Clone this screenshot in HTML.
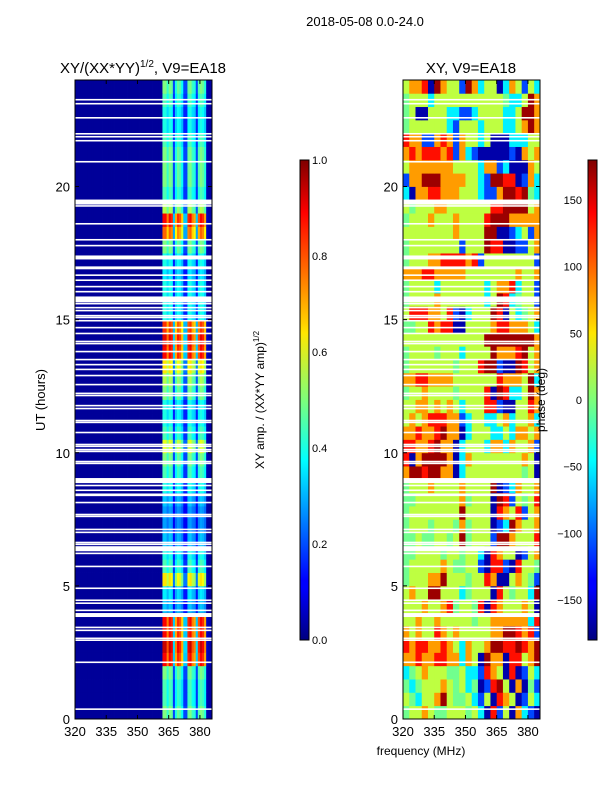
<!DOCTYPE html>
<html><head><meta charset="utf-8"><style>
body{margin:0;background:#fff;}
svg text{font-family:"Liberation Sans","DejaVu Sans",sans-serif;fill:#000;}
</style></head><body>
<svg id="chart" width="600" height="800" xmlns="http://www.w3.org/2000/svg">
<defs>
<linearGradient id="jet" x1="0" y1="1" x2="0" y2="0">
<stop offset="0" stop-color="#00007f"/><stop offset="0.11" stop-color="#0000ff"/><stop offset="0.125" stop-color="#0000ff"/>
<stop offset="0.34" stop-color="#00dcff"/><stop offset="0.375" stop-color="#00ffff"/><stop offset="0.5" stop-color="#7dff7a"/>
<stop offset="0.64" stop-color="#ffe600"/><stop offset="0.66" stop-color="#ffd000"/><stop offset="0.89" stop-color="#ff0000"/><stop offset="1" stop-color="#7f0000"/>
</linearGradient>
</defs>
<text x="365" y="26" font-size="13" text-anchor="middle">2018-05-08 0.0-24.0</text>
<text x="143" y="73" font-size="15" text-anchor="middle">XY/(XX*YY)<tspan font-size="10" dy="-6">1/2</tspan><tspan dy="6">, V9=EA18</tspan></text>
<text x="471" y="73" font-size="15" text-anchor="middle">XY, V9=EA18</text>
<g id="left"></g>
<g id="right"></g>
<g id="axes"></g>
<rect x="300" y="160" width="9" height="480" fill="url(#jet)" stroke="#000" stroke-width="1"/>
<rect x="588" y="160" width="9" height="480" fill="url(#jet)" stroke="#000" stroke-width="1"/>
<text transform="translate(45,400) rotate(-90)" font-size="13" text-anchor="middle">UT (hours)</text>
<text x="421" y="755" font-size="12" text-anchor="middle">frequency (MHz)</text>
<text transform="translate(264,400) rotate(-90)" font-size="12" text-anchor="middle">XY amp. / (XX*YY amp)<tspan font-size="8" dy="-5">1/2</tspan></text>
<text transform="translate(545,400) rotate(-90)" font-size="12" text-anchor="middle">phase (deg)</text>
</svg>
<script>
const NS="http://www.w3.org/2000/svg";
const xTicks=[320,335,350,365,380];
const yTicks=[0,5,10,15,20];
const ampTicks=[0.0,0.2,0.4,0.6,0.8,1.0];
const phaseTicks=[-150,-100,-50,0,50,100,150];
// amplitude per 0.5h time bin
const rowAmp=[0.5,0.45,0.45,0.5,0.88,0.93,0.88,0.88,0.32,0.36,0.65,0.45,0.4,0.32,0.28,0.28,0.32,0.4,0.45,0.5,0.6,0.45,0.4,0.4,0.5,0.55,0.65,0.88,0.9,0.83,0.4,0.4,0.4,0.36,0.4,0.5,0.78,0.88,0.55,0.45,0.5,0.5,0.5,0.45,0.4,0.4,0.45,0.5];
// per 1 MHz channel weight (320..385)
const chanWeight=[0,0,0,0,0,0,0,0,0,0,0,0,0,0,0,0,0,0,0,0,0,0,0,0,0,0,0,0,0,0,0,0,0,0,0,0,0,0,0,0,0,0,1,1,0.85,1,0.95,0.35,0.8,0.95,0.9,0.75,0.35,0.35,0.95,1,0.85,0.8,0.35,0.9,1,0.95,0.8,0.05,0.02,0.02];
const ampBg=0.025;
// phase grid: 48 rows (0.5h) x 22 cols (3 MHz)
const phaseKeys="BbcgyorR";
const phaseVals=[-165,-110,-50,-5,22,80,130,170];
const phaseRows=["gyyoyggyyygycBrbyBocbB","ygcyyoRyggycbyBroyBbyc","gcgyyyoygycgBbrRyBoBgb","cgyoyyyggyccbroyBrBbyc","ooroorroocoyBRooBrryoR","rorrooroycoyyoRRrrRroR","oyoyyroyoyyyyyooRRrorb","yyoyyoyyyyygyyoooooocr","yyyoyyorgyygrBroyyyoyB","yoyyRRyyycgyyyBrygyycR","gyyyooRyyygyyroBByoygb","gyyyyyoyggyybBrrbBryyg","ggyyyygyygyycBroyyBbyo","ggyggyygyRgyyybRRoyyyr","gyyygyyygogyyyBbcRoyyo","gyyyyyyyyRyyyyBroyrbyo","ggyyyyyyyogyyyBRrbygyr","gyyyoyyyyoyyyyRBbcoyyo","oRRrRRooBcyyyyyyyyygyB","rBoRRRRoBcoyyyyyyyyoyB","rroorRooBcyyycoocoyyob","ooroorRooBcyyyccycooyo","yoyorrroobcyyccyocyyoc","yyooyoyoycyyyrrbBByyro","gyyoyyyygyyyyrBRrccyRo","oorrooooyyyyyyyroooyRc","gyyyyyyygyyyrRRbBBRryo","gyyyygyyycyyyyRooorRyo","yyyyyyyyyyyyyRRRRRRRRo","ggyyrorrBByyyyorroooyc","yrrrooyrbBcyyyRrBycgyo","gyyyyoyyyyyyycyRrcgyyb","gyyyycyyyyyyycyoorcyyb","ooorroooooyyyyyyyyoyyo","gyyyoorrrrorbyyyyyyyyb","gyyyyyyyybyyyRrrBBbbyo","yyyyyyyyoyyyyRRBBbcybo","gyyyoyyyoyyyyrRRRooooo","ygyyyooyyyyyyyrrRRRRyo","cBoorroooyyycbboRRrRgc","booRRRooooyycbRRrrBboc","yoooooooyyyycoobcBBBoy","ororrrorbocbBBBBBbBoyo","roobboroboyycyBBBcccyy","gyyyyyycbyyycyyyccyoRo","gyBByyyccbbcyyyyccyRRo","gyyycyyyyyyyyyyygccyRo","yoorBRoyybRocyyBcoybyc"];
// flagged (white) time ranges: start hour, duration
const flagStart=[23.23,23.08,22.55,21.95,21.84,21.69,20.9,19.32,19.24,18.57,17.97,17.75,17.26,16.89,16.64,16.45,16.21,16.02,15.65,15.57,15.42,15.31,15.12,15.05,14.93,14.67,14.45,14.15,14.07,13.77,13.47,13.28,13.1,12.87,12.53,12.2,12.12,11.74,11.63,11.18,11.11,10.73,10.28,10.21,10.09,10.02,9.64,9.57,8.86,8.74,8.56,8.41,8.37,8.1,7.65,7.58,7.09,6.98,6.6,6.53,6.3,6.19,5.7,4.88,4.43,4.32,4.05,3.83,3.41,3.3,3.0,2.93,2.1,0.34];
const flagDur=[0.06,0.06,0.06,0.06,0.06,0.06,0.06,0.19,0.06,0.06,0.06,0.06,0.15,0.11,0.06,0.06,0.06,0.06,0.22,0.06,0.06,0.06,0.06,0.06,0.06,0.06,0.06,0.06,0.06,0.06,0.06,0.06,0.06,0.06,0.06,0.06,0.06,0.06,0.06,0.06,0.06,0.06,0.06,0.06,0.06,0.06,0.06,0.06,0.19,0.06,0.06,0.06,0.06,0.06,0.06,0.06,0.06,0.06,0.06,0.06,0.19,0.06,0.06,0.06,0.06,0.06,0.06,0.15,0.06,0.06,0.06,0.06,0.06,0.06];

const fMin=320,fMax=385.8,tMin=0,tMax=24;
const pTop=80,pBot=719,lL=75,lR=212,rL=403,rR=540;
function yS(t){return pBot-(t-tMin)/(tMax-tMin)*(pBot-pTop);}
function xS(f,x0,x1){return x0+(f-fMin)/(fMax-fMin)*(x1-x0);}
function jet(v){v=Math.max(0,Math.min(1,v));
 const r=Math.min(4*v-1.5,-4*v+4.5),g=Math.min(4*v-0.5,-4*v+3.5),b=Math.min(4*v+0.5,-4*v+2.5);
 const c=x=>Math.round(255*Math.max(0,Math.min(1,x)));return `rgb(${c(r)},${c(g)},${c(b)})`;}
function rect(parent,x,y,w,h,fill){const r=document.createElementNS(NS,"rect");
 r.setAttribute("x",x);r.setAttribute("y",y);r.setAttribute("width",w);r.setAttribute("height",h);r.setAttribute("fill",fill);parent.appendChild(r);return r;}
function txt(parent,x,y,s,anchor,size){const t=document.createElementNS(NS,"text");
 t.setAttribute("x",x);t.setAttribute("y",y);t.setAttribute("text-anchor",anchor);t.setAttribute("font-size",size);t.textContent=s;parent.appendChild(t);return t;}

const L=document.getElementById("left"),R=document.getElementById("right"),A=document.getElementById("axes");
rowAmp.forEach((a,i)=>{
 const t0=i*0.5,y1=yS(t0),y0=yS(t0+0.5);
 chanWeight.forEach((w,j)=>{
  const f=fMin+j,x0=xS(f,lL,lR),x1=xS(Math.min(f+1,fMax),lL,lR);
  const c=rect(L,x0,y0,x1-x0+0.4,y1-y0+0.4,jet(ampBg+(a-ampBg)*w));
  
  
 });
});
phaseRows.forEach((row,i)=>{
 const t0=i*0.5,y1=yS(t0),y0=yS(t0+0.5);
 row.split("").forEach((ch,j)=>{
  const p=phaseVals[phaseKeys.indexOf(ch)];
  const f=fMin+j*3,x0=xS(f,rL,rR),x1=xS(Math.min(f+3,fMax),rL,rR);
  const c=rect(R,x0,y0,x1-x0+0.4,y1-y0+0.4,jet((p+180)/360));
  
  
 });
});
flagStart.forEach((s,i)=>{
 const y0=yS(s+flagDur[i]),h=yS(s)-y0;
 [[lL,lR],[rL,rR]].forEach(p=>{
  const f=rect(A,p[0],y0,p[1]-p[0],Math.max(h,1.3),"#fff");
  
  
 });
});
[[lL,lR],[rL,rR]].forEach((p,k)=>{
 const fr=rect(A,p[0],pTop,p[1]-p[0],pBot-pTop,"none");
 fr.setAttribute("stroke","#000");
 
 
 xTicks.forEach(v=>{const x=xS(v,p[0],p[1]);
  rect(A,x-0.5,pBot-4,1,4,"#000");rect(A,x-0.5,pTop,1,4,"#000");
  const t=txt(A,x,736,String(v),"middle",13);
  
  });
 yTicks.forEach(v=>{const y=yS(v);
  rect(A,p[0],y-0.5,4,1,"#000");rect(A,p[1]-4,y-0.5,4,1,"#000");
  const t=txt(A,p[0]-5,y+5,String(v),"end",13);
  
  });
});
ampTicks.forEach(v=>{const y=640-v*480;
 rect(A,305,y-0.5,4,1,"#000");
 const t=txt(A,312,y+4,v.toFixed(1),"start",11);
 
 });
phaseTicks.forEach(v=>{const y=640-(v+180)/360*480;
 rect(A,593,y-0.5,4,1,"#000");
 const t=txt(A,582,y+4,(v<0?"\u2212":"")+Math.abs(v),"end",11);
 
 });
</script>
</body></html>
